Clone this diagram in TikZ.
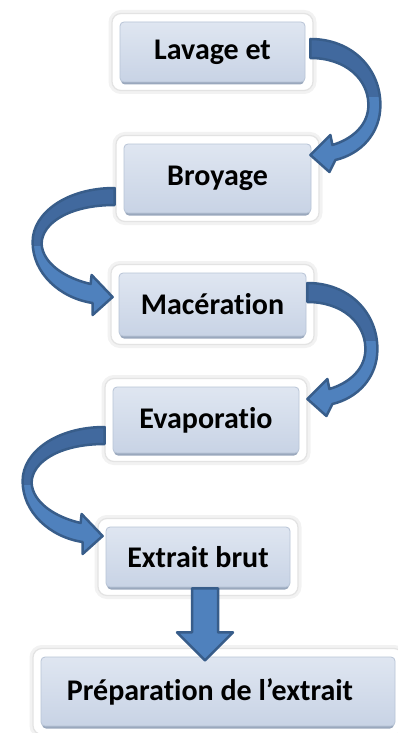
\documentclass[tikz,border=0pt]{standalone}
\usepackage{fontspec}
\setmainfont{Carlito}[Ligatures=NoCommon]
\usetikzlibrary{calc}
\definecolor{arrfill}{HTML}{4F81BD}
\definecolor{arrdark}{HTML}{41699E}
\definecolor{arredge}{HTML}{385D8A}
\definecolor{boxtop}{HTML}{DFE6F1}
\definecolor{boxbot}{HTML}{C8D3E5}
\definecolor{boxedge}{HTML}{B8C4D6}
\definecolor{boxshadow}{HTML}{9AA8BD}
\tikzset{
  frame/.style={fill=white, rounded corners=9pt, draw=black!11, line width=1.2pt,
    preaction={draw=black!5, line width=7pt}},
  stepbox/.style={rectangle, rounded corners=4pt, top color=boxtop, bottom color=boxbot,
    draw=boxedge, line width=0.8pt, font=\fontsize{30}{34}\selectfont\bfseries,
    text=black, inner sep=0pt},
  arrowedge/.style={draw=arredge, line width=2.5pt, line join=round},
}
\newcommand\procstep[6]{%
  \path[frame] (#2-8,#3-8.5) rectangle (#4+8,#5+8.5);
  \path[fill=boxshadow, rounded corners=4pt] (#2+1,#3+3) rectangle (#4-1,#5+2.5);
  \node[stepbox, minimum width={#4-#2}, minimum height={#5-#3}] (#1)
    at ({(#2+#4)/2},{(#3+#5)/2}) {#6};
}
\newcommand\rarrowpath{(0,0) .. controls (42,0) and (70,30) .. (70,66)
  .. controls (70,95) and (50,115) .. (25,121) -- (19,133) -- (0,116) -- (20,96) -- (22,106)
  .. controls (42,100) and (58,86) .. (58,66) .. controls (58,40) and (35,19) .. (0,19) -- cycle}
\newcommand\larrowpath{(0,0) .. controls (-48,0) and (-82,25) .. (-82,54)
  .. controls (-82,85) and (-55,110) .. (-22,115) -- (-22,127) -- (-2,109) -- (-23,87) -- (-24,96)
  .. controls (-50,90) and (-72,75) .. (-73,56) .. controls (-73,35) and (-45,17) .. (0,17) -- cycle}
\newcommand\curvedarrow[2]{% origin, path macro
  \begin{scope}[shift={#1}]
    \fill[arrfill] #2;
    \begin{scope}
      \clip #2;
      \fill[arrdark] (-100,-10) rectangle (100,58);
    \end{scope}
    \path[arrowedge] #2;
  \end{scope}
}
\begin{document}
\begin{tikzpicture}[x=1pt,y=-1pt]
\useasboundingbox (0,0) rectangle (398,733);
\procstep{b1}{120}{22}{305}{82}{Lavage et}
\procstep{b2}{124}{144}{311}{213}{Broyage}
\procstep{b3}{119}{273}{306}{336}{Macération}
\procstep{b4}{113}{387}{299}{453}{Evaporatio}
\procstep{b5}{106}{527}{290}{587}{Extrait brut}
\procstep{b6}{41}{657}{395}{726}{\hspace*{-16pt}Préparation de l’extrait}
% curved arrows
\curvedarrow{($(b1.east)+(5,-13)$)}{\rarrowpath}
\curvedarrow{($(b2.west)+(-9,9.5)$)}{\larrowpath}
\curvedarrow{($(b3.east)+(1,-21.5)$)}{\rarrowpath}
\curvedarrow{($(b4.west)+(-8,7)$)}{\larrowpath}
% straight down arrow
\coordinate (d0) at ($(b5.south)+(7,1)$);
\path[fill=arrfill, arrowedge] ($(d0)+(-13,0)$) -- ($(d0)+(13,0)$) -- ($(d0)+(13,44)$)
  -- ($(d0)+(28,44)$) -- ($(d0)+(0,72)$) -- ($(d0)+(-28,44)$) -- ($(d0)+(-13,44)$) -- cycle;
\end{tikzpicture}
\end{document}
